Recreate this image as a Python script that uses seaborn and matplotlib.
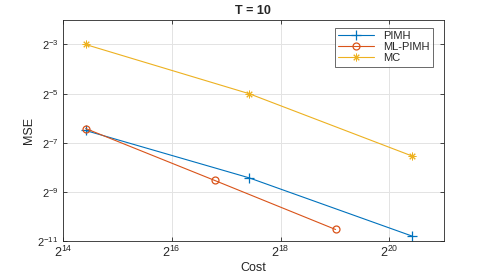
import numpy as np
import pandas as pd
import seaborn as sns
import matplotlib
matplotlib.use("Agg")
import matplotlib.pyplot as plt

# values
cost_pimh = [21900, 175300, 1402000]
mse_pimh = [0.01105, 0.00291, 0.000561]
cost_ml = [21900, 113300, 527900]
mse_ml = [0.01168, 0.00270, 0.000677]
cost_mc = [21900, 175300, 1402000]
mse_mc = [0.125, 0.03125, 0.00537]

x_ticks = [2**14, 2**16, 2**18, 2**20]
x_labels = ["$2^{14}$", "$2^{16}$", "$2^{18}$", "$2^{20}$"]
y_ticks = [2**-11, 2**-9, 2**-7, 2**-5, 2**-3]
y_labels = ["$2^{-11}$", "$2^{-9}$", "$2^{-7}$", "$2^{-5}$", "$2^{-3}$"]

sns.set_theme(style="ticks")
plt.rcParams['font.family'] = ['Liberation Sans', 'DejaVu Sans']
plt.rcParams['mathtext.fontset'] = 'custom'
plt.rcParams['mathtext.rm'] = 'Liberation Sans'
plt.rcParams['mathtext.it'] = 'Liberation Sans'

fig = plt.figure(figsize=(4.91, 2.73), dpi=100)
ax = fig.add_axes([0.128, 0.117, 0.776, 0.81])

series = [
    ("PIMH", cost_pimh, mse_pimh, "#0072BD", "+", dict(markersize=7, markeredgewidth=0.9)),
    ("ML-PIMH", cost_ml, mse_ml, "#D95319", "o", dict(markersize=5, markeredgewidth=0.9, markerfacecolor="none")),
    ("MC", cost_mc, mse_mc, "#EDB120", (8, 2, 0), dict(markersize=5.5, markeredgewidth=0.7)),
]
for name, xs, ys, col, mk, kw in series:
    sns.lineplot(x=xs, y=ys, ax=ax, color=col, marker=mk, label=name,
                 linewidth=0.8, markeredgecolor=col, **kw)

ax.set_xscale("log", base=2)
ax.set_yscale("log", base=2)
ax.set_xlim(2**14, 2**21)
ax.set_ylim(2**-11, 2**-2)
ax.set_xticks(x_ticks)
ax.set_xticklabels(x_labels, fontsize=9)
ax.set_yticks(y_ticks)
ax.set_yticklabels(y_labels, fontsize=8)
ax.minorticks_off()
ax.tick_params(direction="in", length=3, width=0.6, top=True, right=True,
               colors="#262626", pad=3)
ax.grid(True, color="#e3e3e3", linewidth=0.7)
for s in ax.spines.values():
    s.set_color("#262626")
    s.set_linewidth(0.6)

ax.set_title("T = 10", fontsize=9, fontweight="bold", pad=4)
ax.set_xlabel("Cost", fontsize=9, labelpad=1)
ax.set_ylabel("MSE", fontsize=9, labelpad=2)

leg = ax.legend(loc="upper right", bbox_to_anchor=(0.985, 0.99), fontsize=8,
                frameon=True, fancybox=False, edgecolor="#262626",
                handlelength=3.2, borderpad=0.3, labelspacing=0.1)
leg.get_frame().set_linewidth(0.6)

fig.savefig("out.png", dpi=100)
